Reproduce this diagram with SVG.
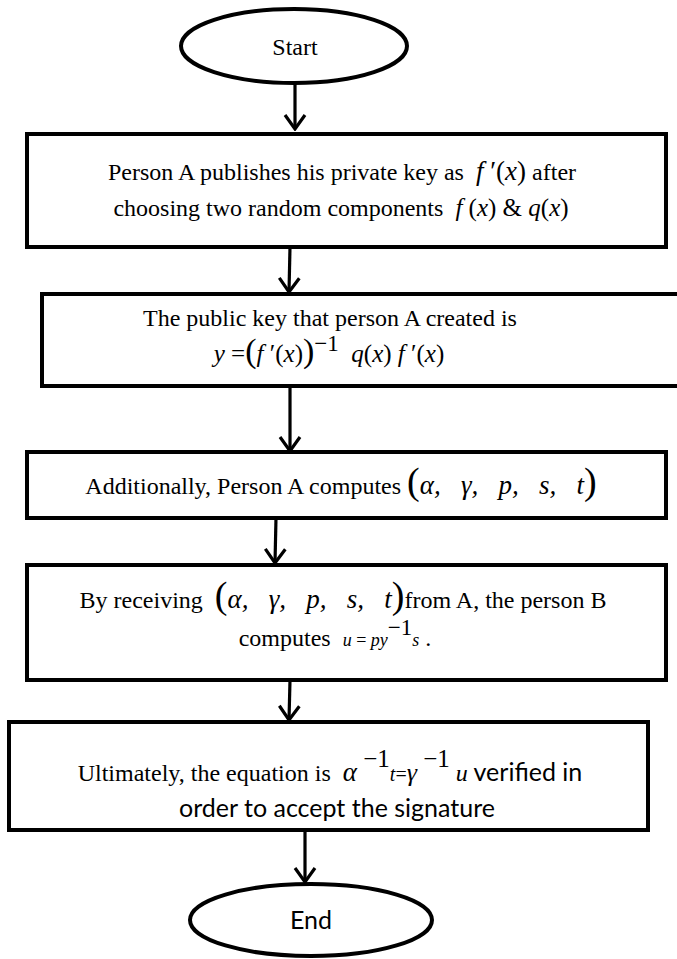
<svg xmlns="http://www.w3.org/2000/svg" width="677" height="959" viewBox="0 0 677 959">
<style>
.shape{fill:#fff;stroke:#000;stroke-width:4}
.t{font-family:"Liberation Serif","Times New Roman",serif;font-size:24px;fill:#000}
.s{font-family:Lato,"Liberation Sans",sans-serif;font-size:25px;fill:#000}
.i{font-style:italic}
.m{font-size:25px}
.tu{font-size:27px;font-style:italic}
.big{font-size:34px}
.bg{font-size:38px}
.conn line{stroke:#000;stroke-width:3.2}
</style>
<defs>
<marker id="ah" markerUnits="userSpaceOnUse" viewBox="-16 -12 18 24" markerWidth="18" markerHeight="24" refX="0" refY="0" orient="auto">
<path d="M-14,-10 L0,0 L-14,10" fill="none" stroke="#000" stroke-width="3.2"/>
</marker>
</defs>
<g id="start">
<ellipse class="shape" cx="294" cy="46" rx="113" ry="37"/>
<text class="t" x="295" y="55" text-anchor="middle" font-size="25">Start</text>
</g>
<g id="box1">
<rect class="shape" x="27" y="134" width="639" height="113"/>
<text class="t" x="342" y="180" text-anchor="middle">Person A publishes his private key as&#160;&#160;<tspan font-size="27"><tspan class="i">f</tspan>&#160;′(<tspan class="i">x</tspan>)</tspan>&#160;after</text>
<text class="t" x="341" y="216" text-anchor="middle">choosing two random components&#160;&#160;<tspan class="m"><tspan class="i">f</tspan>&#160;(<tspan class="i">x</tspan>)&#160;&amp;&#160;<tspan class="i">q</tspan>(<tspan class="i">x</tspan>)</tspan></text>
</g>
<g id="box2">
<rect class="shape" x="42" y="294" width="640" height="92"/>
<text class="t" x="330" y="326" text-anchor="middle" font-size="23">The public key that person A created is</text>
<text class="t m" x="329" y="362" text-anchor="middle"><tspan class="i">y</tspan>&#160;=<tspan class="big">(</tspan><tspan class="i">f</tspan>&#160;′(<tspan class="i">x</tspan>)<tspan class="big">)</tspan><tspan dy="-11" font-size="23">−1</tspan><tspan dy="11">&#160;&#160;<tspan class="i">q</tspan>(<tspan class="i">x</tspan>)&#160;<tspan class="i">f</tspan>&#160;′(<tspan class="i">x</tspan>)</tspan></text>
</g>
<g id="box3">
<rect class="shape" x="27" y="452" width="639" height="66"/>
<text class="t" x="341" y="494" text-anchor="middle">Additionally, Person A computes <tspan class="bg">(</tspan><tspan class="tu">α,&#160;&#160;&#160;γ,&#160;&#160;&#160;p,&#160;&#160;&#160;s,&#160;&#160;&#160;t</tspan><tspan class="bg">)</tspan></text>
</g>
<g id="box4">
<rect class="shape" x="27" y="565" width="639" height="115"/>
<text class="t" x="343" y="608" text-anchor="middle" font-size="23">By receiving&#160;&#160;<tspan class="bg">(</tspan><tspan class="tu">α,&#160;&#160;&#160;γ,&#160;&#160;&#160;p,&#160;&#160;&#160;s,&#160;&#160;&#160;t</tspan><tspan class="bg">)</tspan>from A, the person B</text>
<text class="t" x="335" y="646" text-anchor="middle">computes&#160;&#160;<tspan font-size="18"><tspan class="i">u</tspan>&#160;=&#160;<tspan class="i">py</tspan></tspan><tspan dy="-11" font-size="23">−1</tspan><tspan dy="11" font-size="18" class="i">s</tspan>&#160;.</text>
</g>
<g id="box5">
<rect class="shape" x="9" y="722" width="639" height="108"/>
<text class="t" x="330" y="781" text-anchor="middle" font-size="25.5">Ultimately, the equation is&#160;&#160;<tspan class="i" font-size="27">α</tspan><tspan dy="-14" font-size="25">&#160;−1</tspan><tspan dy="14" class="i" font-size="20">t</tspan><tspan font-size="20">=</tspan><tspan class="i" font-size="26">γ</tspan><tspan dy="-14" font-size="25">&#160;−1</tspan><tspan dy="14" class="i">&#160;u</tspan><tspan class="s" font-size="26">&#160;verified in</tspan></text>
<text class="s" x="337" y="817" text-anchor="middle">order to accept the signature</text>
</g>
<g id="end">
<ellipse class="shape" cx="311" cy="920" rx="121" ry="36"/>
<text class="s" x="311" y="929" text-anchor="middle">End</text>
</g>
<g class="conn" id="connectors">
<line x1="295" y1="83" x2="295" y2="129" marker-end="url(#ah)"/>
<line x1="290" y1="247" x2="289" y2="292" marker-end="url(#ah)"/>
<line x1="290" y1="386" x2="290" y2="451" marker-end="url(#ah)"/>
<line x1="276" y1="518" x2="275" y2="563" marker-end="url(#ah)"/>
<line x1="290" y1="680" x2="289" y2="720" marker-end="url(#ah)"/>
<line x1="305" y1="830" x2="305" y2="882" marker-end="url(#ah)"/>
</g>
</svg>
